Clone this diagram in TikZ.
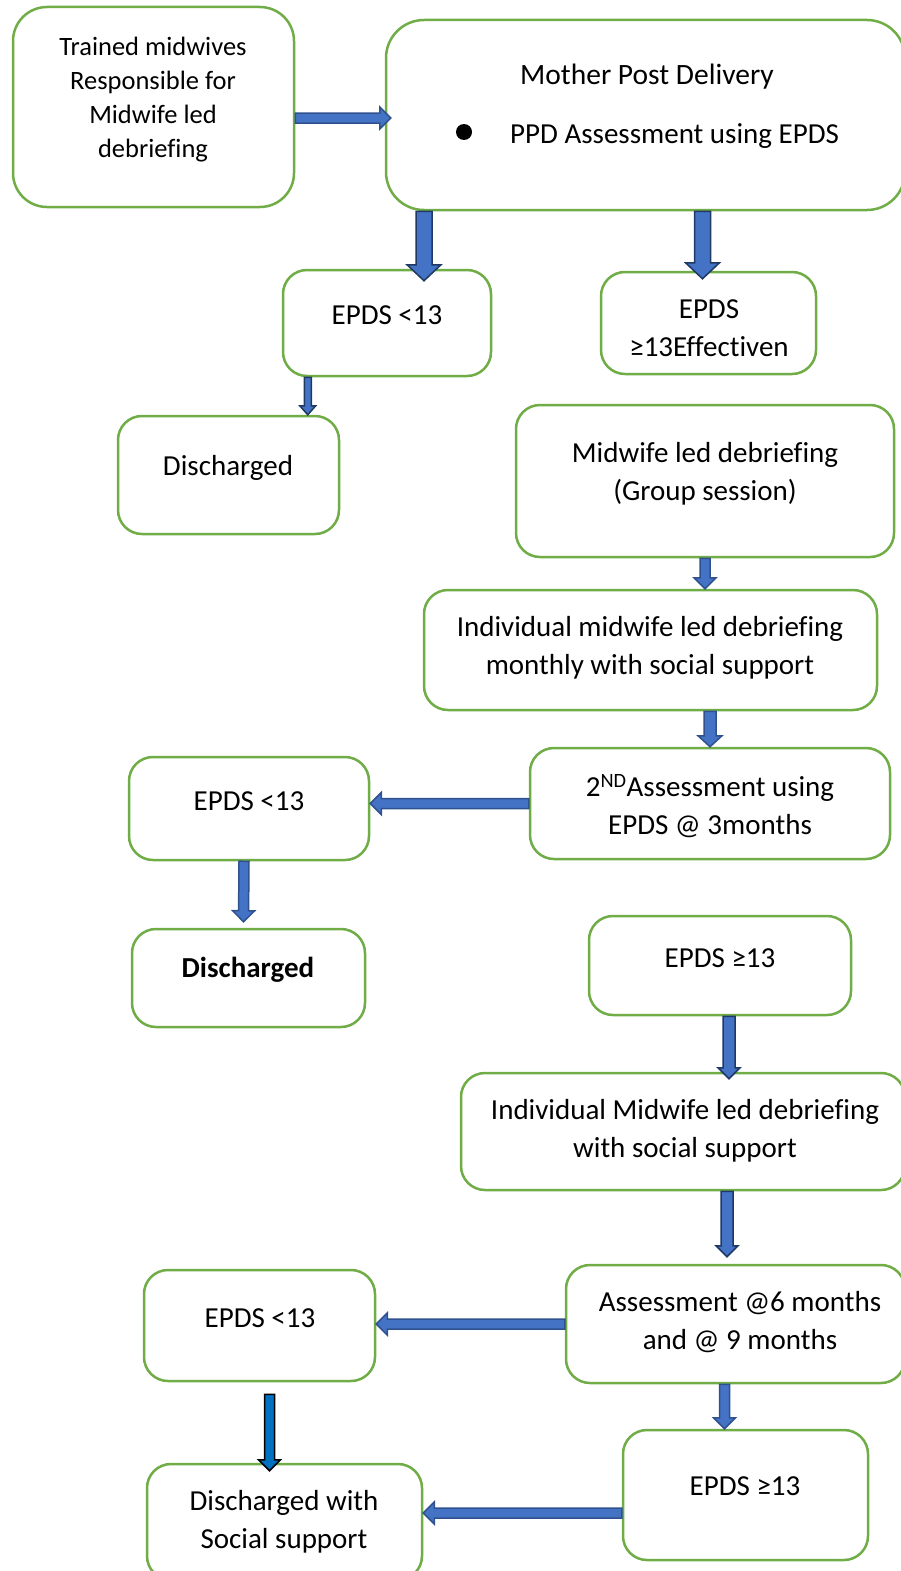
\documentclass[tikz,border=0pt]{standalone}
\usepackage{fontspec}
\setmainfont{Carlito}[Ligatures=NoCommon]
\usetikzlibrary{calc}
\definecolor{boxgreen}{HTML}{70AD47}
\definecolor{arrfill}{HTML}{4472C4}
\definecolor{arrline}{HTML}{2F528F}
\definecolor{arrdark}{HTML}{1F3864}
\definecolor{arrbright}{HTML}{0070C0}
\tikzset{
  box/.style={draw=boxgreen, line width=2.5pt, rounded corners=24pt, fill=white},
  txt/.style={align=center, font=\fontsize{29}{38}\selectfont, inner sep=0pt, yshift=-3pt},
  shaftw/.store in=\shaftw, headw/.store in=\headw, headl/.store in=\headl,
  shaftw=5pt, headw=11pt, headl=11pt,
  barrow/.style={draw=arrline, fill=arrfill, line width=1.5pt, line join=miter,
    to path={($(\tikztostart)!\shaftw!90:(\tikztotarget)$)
      -- ($(\tikztotarget)!\headl!(\tikztostart)!\shaftw!90:(\tikztotarget)$)
      -- ($(\tikztotarget)!\headl!(\tikztostart)!\headw!90:(\tikztotarget)$)
      -- (\tikztotarget)
      -- ($(\tikztotarget)!\headl!(\tikztostart)!\headw!-90:(\tikztotarget)$)
      -- ($(\tikztotarget)!\headl!(\tikztostart)!\shaftw!-90:(\tikztotarget)$)
      -- ($(\tikztostart)!\shaftw!-90:(\tikztotarget)$) -- cycle}},
  darkarr/.style={draw=arrdark},
  bigarr/.style={shaftw=8pt, headw=17pt, headl=16pt}
}
\begin{document}
\begin{tikzpicture}[x=1pt, y=-1pt]
  \useasboundingbox (0,0) rectangle (901,1571);
  % boxes
  \node[box, rounded corners=34pt, minimum width=281pt, minimum height=200pt] (t) at (153.5,107) {};
  \node[box, rounded corners=38pt, minimum width=519pt, minimum height=190pt] (m) at (645.5,115) {};
  \node[box, minimum width=208pt, minimum height=106pt] (e1) at (387,323) {};
  \node[box, minimum width=215pt, minimum height=102pt] (e2) at (708.5,323) {};
  \node[box, minimum width=221pt, minimum height=118pt] (d1) at (228.5,475) {};
  \node[box, minimum width=378pt, minimum height=152pt] (g) at (705,481) {};
  \node[box, minimum width=453pt, minimum height=120pt] (im) at (650.5,650) {};
  \node[box, minimum width=360pt, minimum height=111pt] (a2) at (710,803.5) {};
  \node[box, minimum width=240pt, minimum height=103pt] (e3) at (249,808.5) {};
  \node[box, minimum width=233pt, minimum height=98pt] (d2) at (248.5,978) {};
  \node[box, minimum width=262pt, minimum height=99pt] (e4) at (720,965.5) {};
  \node[box, minimum width=444pt, minimum height=117pt] (is) at (683,1131.5) {};
  \node[box, minimum width=339pt, minimum height=118pt] (a6) at (735.5,1324) {};
  \node[box, minimum width=231pt, minimum height=111pt] (e5) at (259.5,1325.5) {};
  \node[box, minimum width=245pt, minimum height=130pt] (e6) at (745.5,1495) {};
  \node[box, minimum width=275pt, minimum height=116pt] (ds) at (284.5,1522) {};
  % texts
  \node[txt, font=\fontsize{26.5}{34}\selectfont] (tT) at (153,97) {Trained midwives\\Responsible for\\Midwife led\\debriefing};
  \node[txt, font=\fontsize{29.5}{38}\selectfont] (mT) at (647,74) {Mother Post Delivery};
  \node[circle, fill=black, minimum size=16pt, inner sep=0pt] (bul) at (464,132) {};
  \node[txt, anchor=west] (mB) at (510,133) {PPD Assessment using EPDS};
  \node[txt] (e1T) at (387,312) {EPDS <13};
  \node[txt] (e2T) at (709,325.5) {EPDS\\≥13Effectiven};
  \node[txt] (d1T) at (228,465) {Discharged};
  \node[txt] (gT) at (705,471) {Midwife led debriefing\\(Group session)};
  \node[txt] (imT) at (650,645) {Individual midwife led debriefing\\monthly with social support};
  \node[txt] (a2T) at (710,803) {2\textsuperscript{ND}Assessment using\\EPDS @ 3months};
  \node[txt] (e3T) at (249,798) {EPDS <13};
  \node[txt, font=\fontsize{29}{38}\selectfont\bfseries] (d2T) at (248,967) {Discharged};
  \node[txt] (e4T) at (720,955) {EPDS ≥13};
  \node[txt] (isT) at (685,1127.5) {Individual Midwife led debriefing\\with social support};
  \node[txt] (a6T) at (740,1319) {Assessment @6 months\\and @ 9 months};
  \node[txt] (e5T) at (260,1315) {EPDS <13};
  \node[txt] (e6T) at (745,1483) {EPDS ≥13};
  \node[txt] (dsT) at (284,1519) {Discharged with\\Social support};
  % arrows
  \draw[barrow] ([yshift=-3pt]t.east |- m.west) to ([xshift=6pt, yshift=-3pt]m.west);
  \draw[barrow, bigarr, darkarr] ([xshift=37pt]e1.north |- m.south) to ([xshift=37pt, yshift=-12pt]e1.north);
  \draw[barrow, bigarr, darkarr] ([xshift=-6pt]e2.north |- m.south) to ([xshift=-6pt, yshift=-8pt]e2.north);
  \draw[barrow, darkarr, shaftw=3.5pt, headw=8pt, headl=9pt] ([xshift=26pt]e1.south west) to ([xshift=26pt]e1.south west |- d1.north);
  \draw[barrow] (g.south) to (g.south |- im.north);
  \draw[barrow, shaftw=6pt, headw=12pt] (a2.north |- im.south) to (a2.north);
  \draw[barrow] (a2.west) to (e3.east |- a2.west);
  \draw[barrow] ([xshift=-5pt]e3.south) to ([xshift=-5pt, yshift=6pt]d2.north);
  \draw[barrow, darkarr, shaftw=6pt] ([xshift=9pt]e4.south) to ([xshift=9pt, yshift=-7pt]e4.south |- is.north);
  \draw[barrow, darkarr, shaftw=6pt] ([xshift=44pt]is.south) to ([xshift=44pt, yshift=7pt]is.south |- a6.north);
  \draw[barrow] (a6.west) to (e5.east |- a6.west);
  \draw[barrow] ([xshift=-11pt]a6.south) to ([xshift=-11pt]a6.south |- e6.north);
  \draw[barrow, draw=black, fill=arrbright] ([xshift=10pt, yshift=-12pt]e5.south) to ([xshift=10pt, yshift=-8pt]e5.south |- ds.north);
  \draw[barrow] ([yshift=-18pt]e6.west) to ([yshift=-18pt]e6.west -| ds.east);
\end{tikzpicture}
\end{document}
